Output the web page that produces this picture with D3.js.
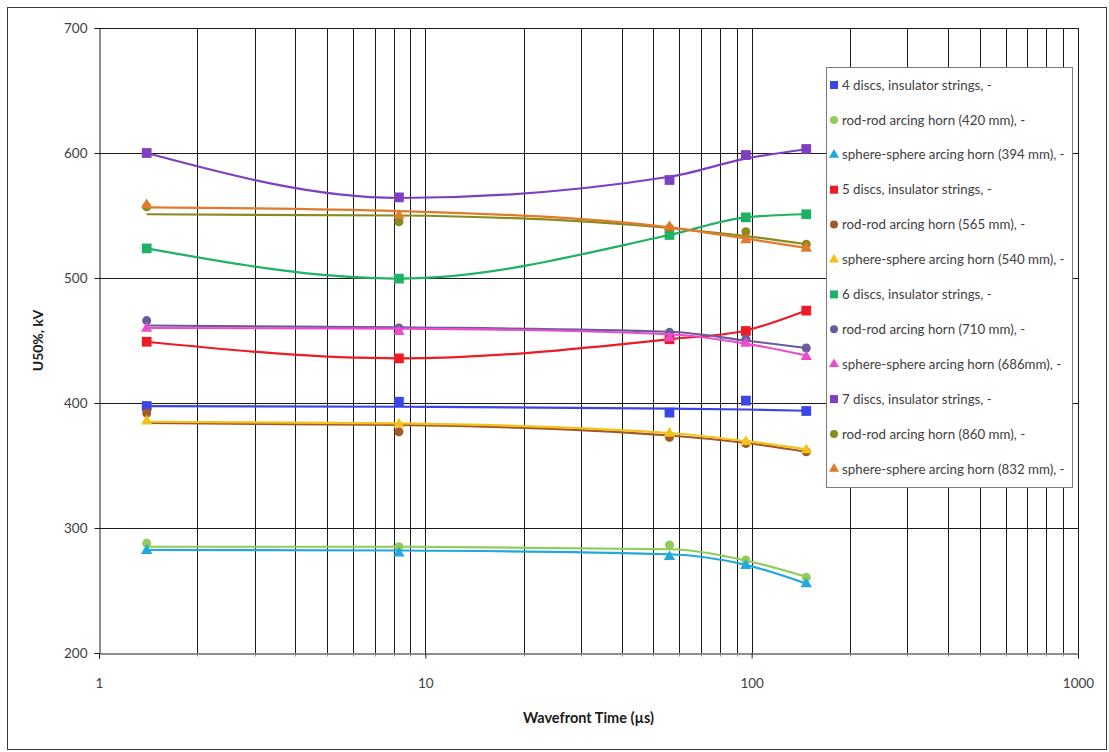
<!DOCTYPE html>
<html>
<head>
<meta charset="utf-8">
<script src="https://cdn.jsdelivr.net/npm/d3@7/dist/d3.min.js"></script>
<style>
  html, body { margin: 0; padding: 0; background: #fff; }
  svg { display: block; font-family: Lato, "Open Sans", sans-serif; }
</style>
</head>
<body>
<svg id="chart" width="1109" height="752"></svg>
<script>
// Wavefront times (µs) at which U50% was measured
const wavefrontTimes = [1.4, 8.3, 56, 96, 147];

// Series names, as shown in the legend
const seriesNames = [
  "4 discs, insulator strings, -",
  "rod-rod arcing horn (420 mm), -",
  "sphere-sphere arcing horn (394 mm), -",
  "5 discs, insulator strings, -",
  "rod-rod arcing horn (565 mm), -",
  "sphere-sphere arcing horn (540 mm), -",
  "6 discs, insulator strings, -",
  "rod-rod arcing horn (710 mm), -",
  "sphere-sphere arcing horn (686mm), -",
  "7 discs, insulator strings, -",
  "rod-rod arcing horn (860 mm), -",
  "sphere-sphere arcing horn (832 mm), -"
];
const seriesColors = [
  "#3a46e6", "#8fcc58", "#22a8dc", "#ec1c24", "#a3582a", "#f3c21a",
  "#1fb164", "#6a5c9c", "#ec4ccc", "#7e3fc0", "#8b8a1e", "#e27a2c"
];
const seriesMarkers = [
  "square", "circle", "triangle", "square", "circle", "triangle",
  "square", "circle", "triangle", "square", "circle", "triangle"
];

// Measured U50% (kV)
const measured = [
  [397.6, 401.0, 392.3, 401.9, 393.6],
  [287.7, 285.0, 286.4, 274.4, 260.5],
  [281.9, 279.8, 277.0, 269.9, 255.2],
  [449.0, 435.7, 451.0, 457.6, 473.9],
  [392.0, 377.0, 372.5, 367.6, 361.0],
  [385.5, 383.0, 375.7, 369.0, 362.4],
  [523.7, 499.5, 534.4, 548.5, 551.0],
  [465.9, 460.0, 456.5, 451.0, 444.0],
  [459.7, 457.0, 452.0, 447.7, 437.0],
  [600.0, 564.5, 578.4, 598.4, 603.2],
  [557.0, 545.0, 540.0, 537.0, 527.0],
  [558.4, 550.0, 541.0, 530.4, 523.7]
];

// Fitted (trend) U50% values (kV), drawn as smooth lines
const fitted = [
  [397.5, 397.0, 395.5, 394.8, 393.8],
  [285.0, 285.0, 283.0, 274.0, 261.0],
  [282.4, 282.0, 279.0, 270.5, 255.5],
  [449.0, 435.7, 451.0, 458.0, 474.0],
  [384.0, 382.5, 374.0, 368.0, 361.0],
  [385.0, 383.7, 376.0, 369.5, 363.0],
  [523.7, 499.5, 534.4, 548.5, 551.0],
  [462.0, 460.5, 457.0, 450.0, 444.0],
  [460.0, 459.5, 455.0, 447.5, 438.0],
  [600.0, 564.0, 581.0, 595.5, 603.0],
  [551.0, 550.0, 540.0, 533.5, 527.0],
  [556.5, 553.5, 540.5, 531.5, 524.0]
];

const xTickValues = [1, 10, 100, 1000];
const yTickValues = [200, 300, 400, 500, 600, 700];
const xTitle = "Wavefront Time (µs)";
const yTitle = "U50%, kV";

const svg = d3.select("#chart");
const plot = { left: 99, right: 1078, top: 28, bottom: 653 };

const x = d3.scaleLog().domain([1, 1000]).range([plot.left, plot.right]);
const y = d3.scaleLinear().domain([200, 700]).range([plot.bottom, plot.top]);

// Outer frame
svg.append("rect")
  .attr("x", 7.5).attr("y", 7.5).attr("width", 1099).attr("height", 742)
  .attr("fill", "#fff").attr("stroke", "#3a3a3a").attr("stroke-width", 1);

// Grid lines: every 1..9 per decade vertically, every 100 kV horizontally
const minorX = [];
for (let d = 1; d < 1000; d *= 10) for (let k = 1; k <= 9; k++) minorX.push(d * k);
minorX.push(1000);

const grid = svg.append("g").attr("stroke", "#1a1a1a").attr("stroke-width", 1).attr("shape-rendering", "crispEdges");
grid.selectAll(".vx").data(minorX.filter(v => v > 1)).join("line")
  .attr("x1", d => Math.round(x(d)) + 0.5).attr("x2", d => Math.round(x(d)) + 0.5)
  .attr("y1", plot.top).attr("y2", plot.bottom);
grid.selectAll(".hy").data(yTickValues.filter(v => v > 200)).join("line")
  .attr("x1", plot.left).attr("x2", plot.right)
  .attr("y1", d => Math.round(y(d)) + 0.5).attr("y2", d => Math.round(y(d)) + 0.5);

// Axes
const yAxis = d3.axisLeft(y).tickValues(yTickValues).tickSize(5).tickPadding(7);
const gy = svg.append("g").attr("transform", `translate(${plot.left + 0.5},0)`).call(yAxis);
gy.select(".domain").attr("stroke", "#1a1a1a");
gy.selectAll(".tick line").attr("stroke", "#1a1a1a");
gy.selectAll(".tick text").attr("font-family", "Lato, sans-serif").attr("font-size", 13.5).attr("fill", "#404040");

const xAxis = d3.axisBottom(x).tickValues(xTickValues).tickFormat(d3.format("d")).tickSize(5).tickPadding(20);
const gx = svg.append("g").attr("transform", `translate(0,${plot.bottom + 0.5})`).call(xAxis);
gx.select(".domain").attr("stroke", "#1a1a1a");
gx.selectAll(".tick line").attr("stroke", "#1a1a1a");
gx.selectAll(".tick text").attr("font-family", "Lato, sans-serif").attr("font-size", 13.5).attr("fill", "#404040");
gx.selectAll(".minor").data(minorX.filter(v => !xTickValues.includes(v))).join("line")
  .attr("x1", d => Math.round(x(d)) + 0.5).attr("x2", d => Math.round(x(d)) + 0.5)
  .attr("y1", 0).attr("y2", 3).attr("stroke", "#888");

// Axis titles
svg.append("text").attr("x", (plot.left + plot.right) / 2).attr("y", 723)
  .attr("text-anchor", "middle").attr("font-weight", "bold").attr("font-size", 14.5)
  .attr("fill", "#1a1a1a").text(xTitle);
svg.append("text").attr("transform", `translate(43,${(plot.top + plot.bottom) / 2}) rotate(-90)`)
  .attr("text-anchor", "middle").attr("font-weight", "bold").attr("font-size", 14)
  .attr("fill", "#1a1a1a").text(yTitle);

// Marker shapes
const symbolFor = { square: d3.symbolSquare, circle: d3.symbolCircle, triangle: d3.symbolTriangle };
const sizeFor = { square: 95, circle: 64, triangle: 56 };

const line = d3.line().x(d => x(d[0])).y(d => y(d[1])).curve(d3.curveMonotoneX);

const seriesG = svg.append("g");
seriesNames.forEach((name, i) => {
  const g = seriesG.append("g");
  g.append("path")
    .datum(wavefrontTimes.map((t, j) => [t, fitted[i][j]]))
    .attr("d", line).attr("fill", "none")
    .attr("stroke", seriesColors[i]).attr("stroke-width", 2.2);
  g.selectAll("path.m").data(wavefrontTimes.map((t, j) => [t, measured[i][j]])).join("path")
    .attr("class", "m")
    .attr("transform", d => `translate(${x(d[0])},${y(d[1])})`)
    .attr("d", d3.symbol(symbolFor[seriesMarkers[i]], sizeFor[seriesMarkers[i]]))
    .attr("fill", seriesColors[i]);
});

// Legend
const legend = svg.append("g");
legend.append("rect").attr("x", 826.5).attr("y", 67.5).attr("width", 246).attr("height", 420)
  .attr("fill", "#fff").attr("stroke", "#7a7a7a").attr("stroke-width", 1);
const legendSizes = { square: 64, circle: 50, triangle: 44 };
seriesNames.forEach((name, i) => {
  const ly = 85 + i * 34.9;
  legend.append("path")
    .attr("transform", `translate(834,${ly})`)
    .attr("d", d3.symbol(symbolFor[seriesMarkers[i]], legendSizes[seriesMarkers[i]]))
    .attr("fill", seriesColors[i]);
  legend.append("text").attr("x", 842).attr("y", ly).attr("dy", "0.35em")
    .attr("font-size", 13.3).attr("fill", "#404040").text(name);
});
</script>
</body>
</html>
